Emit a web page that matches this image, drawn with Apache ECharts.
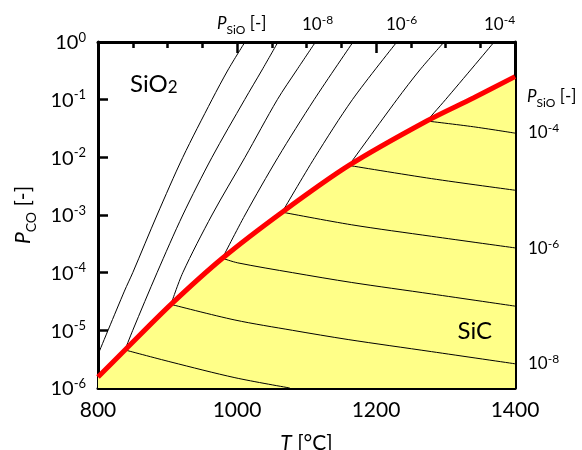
<!DOCTYPE html>
<html><head><meta charset="utf-8">
<script src="https://cdn.jsdelivr.net/npm/echarts@6/dist/echarts.min.js"></script>
<style>html,body{margin:0;padding:0;background:#fff}#c{width:582px;height:450px}</style>
</head><body><div id="c"></div>
<script>
// x ticks / labels
const xLabels = [800, 1000, 1200, 1400];
// SiO2 / SiC boundary (T [°C], P_CO [-])
const boundary = [[800,1.55e-6],[838.8,4.57e-6],[905,2.82e-5],[979,1.78e-4],[1065,1.12e-3],[1161,7.24e-3],[1273,4.27e-2],[1340,0.107],[1400,0.251]];
// P_SiO isobars in SiO2 region
const sio2_m10 = [[800,3.8e-6],[838,4.79e-5],[850,1e-4],[885,1e-3],[922,1e-2],[964,0.1],[987,0.327],[1011.5,1]];
const sio2_m9  = [[838.8,4.57e-6],[850,1e-5],[885,1e-4],[922,1e-3],[964,1e-2],[1011,0.1],[1036,0.327],[1059,1]];
const sio2_m8  = [[905,2.82e-5],[922,1e-4],[964,1e-3],[1011.5,1e-2],[1058,0.1],[1086,0.327],[1113,1]];
const sio2_m7  = [[979,1.78e-4],[1011.5,1e-3],[1059,1e-2],[1111,0.1],[1167,1]];
const sio2_m6  = [[1065,1.12e-3],[1112,1e-2],[1166,0.1],[1230,1]];
const sio2_m5  = [[1161,7.24e-3],[1230,0.1],[1263,0.327],[1298,1]];
const sio2_m4  = [[1273,4.27e-2],[1300,0.1],[1370,1]];
// P_SiO isobars in SiC region
const sic_m4 = [[1273,4.27e-2],[1340,3.39e-2],[1400,2.63e-2]];
const sic_m5 = [[1161,7.24e-3],[1280,4.27e-3],[1400,2.69e-3]];
const sic_m6 = [[1065,1.12e-3],[1165,6.76e-4],[1280,4.27e-4],[1400,2.69e-4]];
const sic_m7 = [[979,1.78e-4],[1001,1.48e-4],[1080,1e-4],[1165,6.76e-5],[1280,4.27e-5],[1400,2.63e-5]];
const sic_m8 = [[905,2.82e-5],[997,1.51e-5],[1080,1e-5],[1160,6.92e-6],[1280,4.27e-6],[1400,2.63e-6]];
const sic_m9 = [[838.8,4.57e-6],[905,2.82e-6],[997,1.51e-6],[1076,1e-6]];

const FONT = 'Lato';
const chart = echarts.init(document.getElementById('c'));

const thin = d => ({type:'line', data:d, showSymbol:false, symbol:'none', silent:true, z:3, smooth:0.3,
  lineStyle:{color:'#000', width:1}, xAxisIndex:0, yAxisIndex:0});

const axisCommon = {
  axisLine:{show:true, onZero:false, lineStyle:{color:'#000', width:3}},
  splitLine:{show:false}
};

const supRich = (b, s) => ({
  b:{fontFamily:FONT, fontSize:b, color:'#000', lineHeight:b+2, verticalAlign:'bottom', padding:[Math.round(b*0.4),0,0,0]},
  s:{fontFamily:FONT, fontSize:s, color:'#000', lineHeight:s+1, verticalAlign:'top'}
});
const subRich = (b, s) => ({
  i:{fontFamily:FONT, fontSize:b, fontStyle:'italic', color:'#000', lineHeight:b+4, verticalAlign:'top'},
  n:{fontFamily:FONT, fontSize:b, color:'#000', lineHeight:b+4, verticalAlign:'top'},
  s:{fontFamily:FONT, fontSize:s, color:'#000', lineHeight:s+2, verticalAlign:'bottom'}
});

function txt(x, y, text, rich, align) {
  return {type:'text', x:x, y:y, z:10, silent:true,
    style:{text:text, rich:rich, align:align||'left', verticalAlign:'middle', fill:'#000', fontFamily:FONT}};
}

const option = {
  animation:false,
  backgroundColor:'#fff',
  grid:{left:98, right:67, top:42, bottom:62, containLabel:false, outerBoundsMode:'none'},
  xAxis:[
    Object.assign({type:'value', position:'bottom', min:800, max:1400, interval:200,
      axisTick:{show:true, inside:true, length:11, lineStyle:{color:'#000', width:2.5}},
      minorTick:{show:true, splitNumber:4, length:6, lineStyle:{color:'#000', width:2.5}},
      axisLabel:{show:true, fontFamily:FONT, fontSize:21, color:'#000', margin:12,
        showMinLabel:true, showMaxLabel:true,
        formatter:v => xLabels.indexOf(v) >= 0 ? String(v) : ''},
      name:'{i|T} [°C]', nameLocation:'middle', nameGap:45,
      nameTextStyle:{fontFamily:FONT, fontSize:21, color:'#000',
        rich:{i:{fontFamily:FONT, fontSize:21, fontStyle:'italic', color:'#000'}}}
    }, axisCommon),
    Object.assign({type:'value', position:'top', min:800, max:1400, interval:200,
      axisTick:{show:true, inside:true, length:11, lineStyle:{color:'#000', width:2.5}},
      minorTick:{show:true, splitNumber:4, length:6, lineStyle:{color:'#000', width:2.5}},
      axisLabel:{show:false}}, axisCommon)
  ],
  yAxis:[
    Object.assign({type:'log', logBase:10, position:'left', min:1e-6, max:1,
      axisTick:{show:true, inside:true, length:10, lineStyle:{color:'#000', width:2.5}},
      axisLabel:{show:true, margin:12, formatter:v => '{b|10}{s|' + Math.round(Math.log10(v)) + '}',
        rich:supRich(20, 13)},
      name:'{i|P}{s|CO}{n| [-]}', nameLocation:'middle', nameGap:60, nameRotate:90,
      nameTextStyle:{rich:subRich(21, 14)}
    }, axisCommon),
    Object.assign({type:'log', logBase:10, position:'right', min:1e-6, max:1,
      axisTick:{show:true, inside:true, length:10, lineStyle:{color:'#000', width:2.5}},
      axisLabel:{show:false}}, axisCommon)
  ],
  graphic:[
    txt(130, 82, '{n|SiO}{s|2}', {
      n:{fontFamily:FONT, fontSize:24, color:'#000', lineHeight:28, verticalAlign:'bottom'},
      s:{fontFamily:FONT, fontSize:17, color:'#000', lineHeight:20, verticalAlign:'bottom'}}),
    txt(492, 331, '{n|SiC}', {n:{fontFamily:FONT, fontSize:24, color:'#000'}}, 'right'),
    txt(217, 26, '{i|P}{s|SiO}{n| [-]}', subRich(17, 12)),
    txt(302, 24, '{b|10}{s|-8}', supRich(17, 12)),
    txt(386, 24, '{b|10}{s|-6}', supRich(17, 12)),
    txt(484, 24, '{b|10}{s|-4}', supRich(17, 12)),
    txt(527, 99, '{i|P}{s|SiO}{n| [-]}', subRich(17, 12)),
    txt(528, 132, '{b|10}{s|-4}', supRich(17, 12)),
    txt(528, 248, '{b|10}{s|-6}', supRich(17, 12)),
    txt(528, 363, '{b|10}{s|-8}', supRich(17, 12))
  ],
  series:[
    {type:'line', data:boundary, showSymbol:false, symbol:'none', silent:true, z:1, smooth:0.3,
      lineStyle:{width:0}, areaStyle:{color:'#ffff88', opacity:1, origin:'start'}},
    thin(sio2_m10), thin(sio2_m9), thin(sio2_m8), thin(sio2_m7), thin(sio2_m6), thin(sio2_m5), thin(sio2_m4),
    thin(sic_m4), thin(sic_m5), thin(sic_m6), thin(sic_m7), thin(sic_m8), thin(sic_m9),
    {type:'line', data:boundary, showSymbol:false, symbol:'none', silent:true, z:5, smooth:0.3,
      lineStyle:{color:'#ff0000', width:5}}
  ]
};
chart.setOption(option);
</script></body></html>
